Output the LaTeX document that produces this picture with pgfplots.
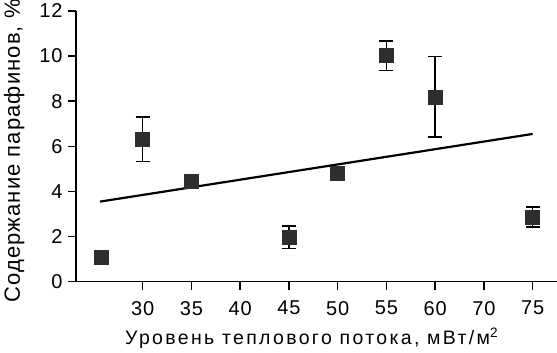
\documentclass[border=0pt]{standalone}
\usepackage{fontspec}
\setmainfont{Liberation Sans}
\usepackage{pgfplots}
\pgfplotsset{compat=1.18}
\definecolor{markgray}{HTML}{2E2E2E}
\begin{document}
\begin{tikzpicture}
\begin{axis}[
  scale only axis, width=481pt, height=270.7pt,
  xmin=-0.367, xmax=9.5, ymin=0, ymax=12,
  axis lines=left, axis line style={-, line width=1.5pt},
  xtick={1,...,9}, xticklabels={30,35,40,45,50,55,60,70,75},
  ytick={0,2,...,12},
  tick align=outside, major tick length=8pt,
  tick style={line width=1.5pt, black},
  ticklabel style={font=\fontsize{20}{20}\selectfont\addfontfeature{LetterSpace=4}},
  xticklabel style={yshift=-8pt},
  yticklabel style={xshift=-2pt},
  /pgf/number format/assume math mode=true,
  xlabel={Уровень теплового потока, мВт/м\textsuperscript{2}},
  ylabel={Содержание парафинов, \%},
  xlabel style={font=\fontsize{19.5}{20}\selectfont\addfontfeature{LetterSpace=12}, at={(axis description cs:0.49,0)}, anchor=base, yshift=-63.3pt},
  ylabel style={font=\fontsize{22}{24}\selectfont\addfontfeature{LetterSpace=5}, at={(axis description cs:0,0.483)}, anchor=base, yshift=56pt},
  clip=false,
]
\coordinate (bl) at (rel axis cs:0,0);
\coordinate (tr) at (rel axis cs:1,1);
\addplot[black, line width=2.2pt] coordinates {(0.125,3.55) (9.0,6.55)};
\addplot[only marks, mark=square*, mark size=7pt,
  mark options={fill=markgray, draw=markgray},
  error bars/.cd, y dir=both, y explicit,
  error bar style={line width=1.6pt, black},
  error mark options={line width=1.6pt, mark size=7pt, black, rotate=90}]
coordinates {
  (0.16,1.08) +- (0,0)
  (1,6.31) +- (0,0.98)
  (2,4.47) +- (0,0)
  (4,1.97) +- (0,0.5)
  (5,4.81) +- (0,0)
  (6,10.02) +- (0,0.65)
  (7,8.2) +- (0,1.78)
  (9,2.86) +- (0,0.44)
};
\end{axis}
\pgfresetboundingbox
\path[use as bounding box] ([xshift=-76pt,yshift=-71.3pt]bl) rectangle ([yshift=11pt]tr);
\end{tikzpicture}
\end{document}
